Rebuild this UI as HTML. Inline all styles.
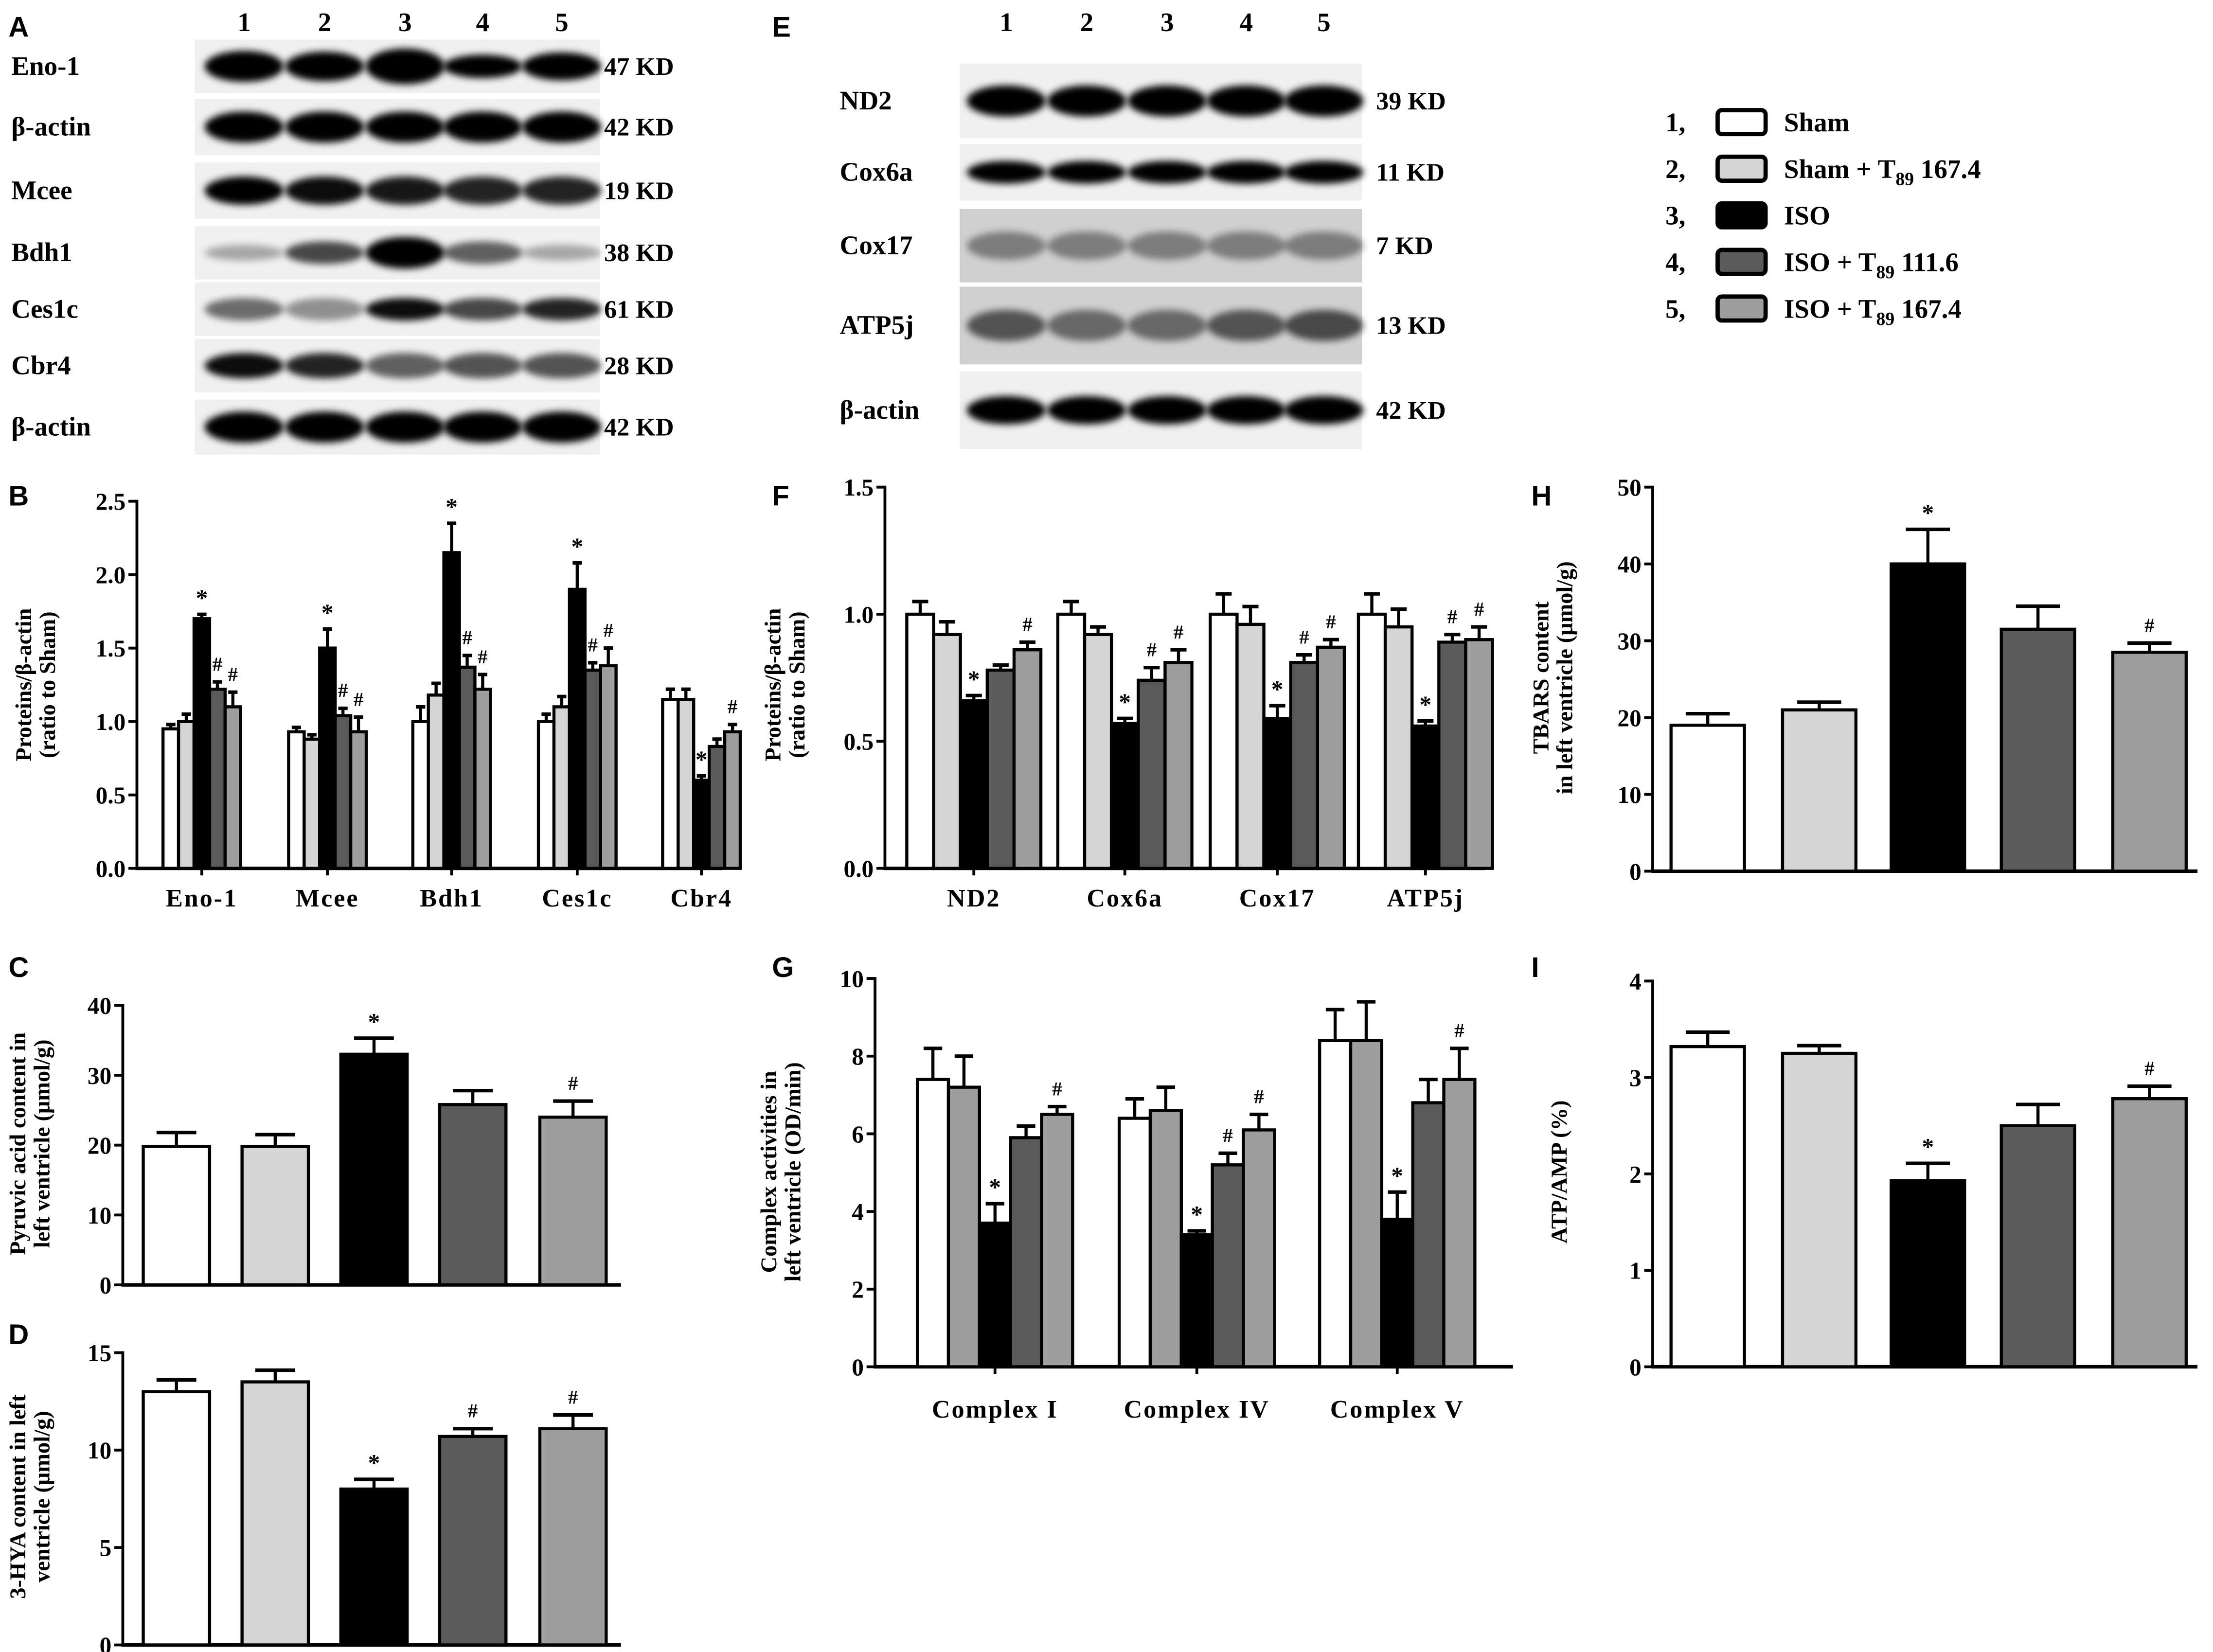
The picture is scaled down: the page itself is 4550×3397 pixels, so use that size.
<!DOCTYPE html>
<html><head><meta charset="utf-8"><style>
html,body{margin:0;padding:0;background:#fff}
svg{display:block}
text{font-family:"Liberation Serif",serif;font-weight:bold;fill:#000}
.pl{font-family:"Liberation Sans",sans-serif;font-weight:bold;font-size:20px}
</style></head><body>
<svg id="fig" width="4550" height="3397" viewBox="0 0 1568 1170" preserveAspectRatio="none" xmlns="http://www.w3.org/2000/svg">
<defs><filter id="blur" x="-20%" y="-50%" width="140%" height="200%"><feGaussianBlur stdDeviation="2.5"/></filter></defs>
<g id="root"></g>
</svg>
<script>
// ---- data ----
const fills=['#ffffff','#d4d4d4','#000000','#5a5a5a','#9e9e9e'];
const fillsG=['#ffffff','#9e9e9e','#000000','#5a5a5a','#9e9e9e'];
const bCats=['Eno-1','Mcee','Bdh1','Ces1c','Cbr4'];
const bVals=[[0.95,1.0,1.7,1.22,1.1],[0.93,0.88,1.5,1.04,0.93],[1.0,1.18,2.15,1.37,1.22],[1.0,1.1,1.9,1.35,1.38],[1.15,1.15,0.6,0.83,0.93]];
const bErrs=[[0.03,0.05,0.03,0.05,0.1],[0.03,0.03,0.13,0.05,0.1],[0.1,0.08,0.2,0.08,0.1],[0.05,0.07,0.18,0.05,0.12],[0.07,0.07,0.03,0.05,0.05]];
const bMarks=[['','','*','#','#'],['','','*','#','#'],['','','*','#','#'],['','','*','#','#'],['','','*','','#']];
const bTicks=['0.0','0.5','1.0','1.5','2.0','2.5'];
const fCats=['ND2','Cox6a','Cox17','ATP5j'];
const fVals=[[1.0,0.92,0.66,0.78,0.86],[1.0,0.92,0.57,0.74,0.81],[1.0,0.96,0.59,0.81,0.87],[1.0,0.95,0.56,0.89,0.9]];
const fErrs=[[0.05,0.05,0.02,0.02,0.03],[0.05,0.03,0.02,0.05,0.05],[0.08,0.07,0.05,0.03,0.03],[0.08,0.07,0.02,0.03,0.05]];
const fMarks=[['','','*','','#'],['','','*','#','#'],['','','*','#','#'],['','','*','#','#']];
const fTicks=['0.0','0.5','1.0','1.5'];
const gCats=['Complex I','Complex IV','Complex V'];
const gVals=[[7.4,7.2,3.7,5.9,6.5],[6.4,6.6,3.4,5.2,6.1],[8.4,8.4,3.8,6.8,7.4]];
const gErrs=[[0.8,0.8,0.5,0.3,0.2],[0.5,0.6,0.1,0.3,0.4],[0.8,1.0,0.7,0.6,0.8]];
const gMarks=[['','','*','','#'],['','','*','#','#'],['','','*','','#']];
const gTicks=['0','2','4','6','8','10'];
const hVals=[19,21,40,31.5,28.5];
const hErrs=[1.5,1,4.5,3,1.2];
const hMarks=['','','*','','#'];
const hTicks=['0','10','20','30','40','50'];
const cVals=[19.8,19.8,33,25.8,24];
const cErrs=[2,1.7,2.3,2,2.3];
const cMarks=['','','*','','#'];
const cTicks=['0','10','20','30','40'];
const dVals=[13,13.5,8,10.7,11.1];
const dErrs=[0.6,0.6,0.5,0.4,0.7];
const dMarks=['','','*','#','#'];
const dTicks=['0','5','10','15'];
const iVals=[3.32,3.25,1.93,2.5,2.78];
const iErrs=[0.15,0.08,0.18,0.22,0.13];
const iMarks=['','','*','','#'];
const iTicks=['0','1','2','3','4'];
const legendLabels=['Sham','Sham + T','ISO','ISO + T','ISO + T'];
const legendSubs=['','89 167.4','','89 111.6','89 167.4'];

const NS='http://www.w3.org/2000/svg';
const root=document.getElementById('root');
function mk(tag,attrs,parent,txt){const e=document.createElementNS(NS,tag);for(const k in attrs)e.setAttribute(k,attrs[k]);if(txt!==undefined)e.textContent=txt;(parent||root).appendChild(e);return e;}

[['A',6,26],['B',6,358],['C',6,692],['D',6,952],['E',547,26],['F',547,358],['G',547,692],['H',1085,358],['I',1085,692]].forEach(p=>{
 const t=mk('text',{x:p[1],y:p[2],class:'pl'},root,p[0]);
 
 
});

function blot(name,x0,x1,lanes,rows,labelX,kdX){
 const g=mk('g',{});
 rows.forEach(r=>{
  const rg=mk('g',{},g);
  mk('rect',{x:x0,y:r.y0,width:x1-x0,height:r.y1-r.y0,fill:r.bg||'#f0f0f0'},rg);
  const cy=(r.y0+r.y1)/2;
  lanes.forEach((lx,i)=>{
   const h=(r.h||18)*(r.s?r.s[i]:1);
   mk('ellipse',{cx:lx,cy:cy,rx:(r.w||28),ry:h/2,fill:'#000',opacity:r.o?r.o[i]:1,filter:'url(#blur)'},rg);
  });
  mk('text',{x:labelX,y:cy+6,'font-size':19},rg,r.label);
  mk('text',{x:kdX,y:cy+6,'font-size':18},rg,r.kd);
 });
 return g;
}
const aL=[173,230,287,342,398];
blot('western-blot-a',138,425,aL,[
 {label:'Eno-1',y0:28,y1:66,kd:'47 KD',h:22,s:[1,.95,1.15,.75,.9]},
 {label:'β-actin',y0:70,y1:110,kd:'42 KD',h:22},
 {label:'Mcee',y0:115,y1:155,kd:'19 KD',h:20,o:[1,.95,.9,.85,.85]},
 {label:'Bdh1',y0:160,y1:198,kd:'38 KD',h:16,o:[.3,.7,1,.6,.3],s:[.7,1,1.4,1,.7]},
 {label:'Ces1c',y0:200,y1:238,kd:'61 KD',h:16,o:[.55,.4,.95,.7,.85]},
 {label:'Cbr4',y0:240,y1:278,kd:'28 KD',h:18,o:[.95,.85,.6,.65,.65]},
 {label:'β-actin',y0:283,y1:322,kd:'42 KD',h:22}
],8,428);
const eL=[713,770,827,883,938];
blot('western-blot-e',680,965,eL,[
 {label:'ND2',y0:45,y1:98,kd:'39 KD',h:22},
 {label:'Cox6a',y0:102,y1:142,kd:'11 KD',h:16},
 {label:'Cox17',y0:148,y1:200,kd:'7 KD',h:20,o:[.4,.4,.4,.4,.4],bg:'#d0d0d0'},
 {label:'ATP5j',y0:203,y1:258,kd:'13 KD',h:22,o:[.6,.5,.5,.6,.65],bg:'#d0d0d0'},
 {label:'β-actin',y0:263,y1:318,kd:'42 KD',h:20}
],595,975);
[['lane-labels-a',aL],['lane-labels-e',eL]].forEach(([n,L])=>{
 const g=mk('g',{});
 L.forEach((x,i)=>mk('text',{x:x,y:22,'font-size':19,'text-anchor':'middle'},g,String(i+1)));
});

(function(){
 const g=mk('g',{});
 legendLabels.forEach((lab,i)=>{
  const y=86+i*33;
  const e=mk('g',{},g);
  mk('text',{x:1180,y:y+7,'font-size':19},e,(i+1)+',');
  mk('rect',{x:1217,y:y-8,width:34,height:17,rx:3,fill:fills[i],stroke:'#000','stroke-width':3},e);
  const t=mk('text',{x:1264,y:y+7,'font-size':19},e,lab);
  if(legendSubs[i]){const p=legendSubs[i].split(' ');mk('tspan',{'font-size':13,dy:5},t,p[0]);mk('tspan',{dy:-5,'font-size':19},t,' '+p[1]);}
 });
})();

function yAxis(g,x,y0,pxPer,step,ticks,xEnd){
 mk('line',{x1:x,y1:y0+1,x2:x,y2:y0-pxPer*step*(ticks.length-1)-1,stroke:'#000','stroke-width':2},g);
 mk('line',{x1:x-1,y1:y0,x2:xEnd,y2:y0,stroke:'#000','stroke-width':2.5},g);
 ticks.forEach((t,i)=>{const y=y0-pxPer*step*i;
  mk('line',{x1:x-6,y1:y,x2:x,y2:y,stroke:'#000','stroke-width':2},g);
  mk('text',{x:x-8,y:y+6,'font-size':17,'text-anchor':'end'},g,t);});
}
function yTitle(g,lines,x,cy,fs){
 lines.forEach((l,i)=>mk('text',{x:0,y:0,'font-size':fs||16,'text-anchor':'middle',transform:`translate(${x+i*17},${cy}) rotate(-90)`},g,l));
}
function bar(g,cx,w,y0,pxPer,v,e,fill,mark,name){
 const top=y0-v*pxPer, et=y0-(v+e)*pxPer;
 const b=mk('rect',{x:cx-w/2,y:top,width:w,height:y0-top,fill:fill,stroke:'#000','stroke-width':2.2},g);
 
 mk('line',{x1:cx,y1:top,x2:cx,y2:et,stroke:'#000','stroke-width':2.2},g);
 mk('line',{x1:cx-w*0.3,y1:et,x2:cx+w*0.3,y2:et,stroke:'#000','stroke-width':2.5},g);
 if(mark)mk('text',{x:cx,y:et-(mark==='*'?6:8),'font-size':mark==='*'?17:14,'text-anchor':'middle'},g,mark);
}
function grouped(name,x,y0,pxPer,step,ticks,xEnd,cats,centers,bw,vals,errs,marks,fl,title,tx,tcy,catY){
 const g=mk('g',{});
 yAxis(g,x,y0,pxPer,step,ticks,xEnd);
 cats.forEach((c,k)=>{
  const cx=centers[k];
  vals[k].forEach((v,i)=>bar(g,cx+(i-2)*bw,bw,y0,pxPer,v,errs[k][i],fl[i],marks[k][i],'bar-'+c.toLowerCase().replace(/[^a-z0-9]/g,'')+'-'+(i+1)));
  mk('line',{x1:cx,y1:y0,x2:cx,y2:y0+5,stroke:'#000','stroke-width':2},g);
  mk('text',{x:cx,y:catY,'font-size':18,'letter-spacing':1,'text-anchor':'middle'},g,c);
 });
 yTitle(g,title,tx,tcy);
}
function simple(name,x,y0,pxPer,step,ticks,xEnd,centers,bw,vals,errs,marks,title,tx,tcy,fs){
 const g=mk('g',{});
 yAxis(g,x,y0,pxPer,step,ticks,xEnd);
 vals.forEach((v,i)=>bar(g,centers[i],bw,y0,pxPer,v,errs[i],fills[i],marks[i],'bar-'+(i+1)));
 yTitle(g,title,tx,tcy,fs);
}
grouped('chart-b',97,615,104,0.5,bTicks,512,bCats,[143,232,320,409,497],11,bVals,bErrs,bMarks,fills,['Proteins/β-actin','(ratio to Sham)'],22,485,642);
grouped('chart-f',627,615,180,0.5,fTicks,1052,fCats,[690,797,905,1010],19,fVals,fErrs,fMarks,fills,['Proteins/β-actin','(ratio to Sham)'],553,485,642);
grouped('chart-g',620,968,27.5,2,gTicks,1072,gCats,[705,848,990],22,gVals,gErrs,gMarks,fillsG,['Complex  activities in','left ventricle (OD/min)'],550,830,1004);
simple('chart-h',1171,617,5.44,10,hTicks,1557,[1210,1289,1366,1444,1523],52,hVals,hErrs,hMarks,['TBARS content','in left ventricle (μmol/g)'],1097,480);
simple('chart-c',87,910,4.95,10,cTicks,440,[125,195,265,335,406],47,cVals,cErrs,cMarks,['Pyruvic acid content in','left ventricle (μmol/g)'],18,810);
simple('chart-d',87,1165,13.8,5,dTicks,440,[125,195,265,335,406],47,dVals,dErrs,dMarks,['3-HYA content in left','ventricle (μmol/g)'],18,1060);
simple('chart-i',1171,968,68.3,1,iTicks,1557,[1210,1289,1366,1444,1523],52,iVals,iErrs,iMarks,['ATP/AMP  (%)'],1110,830);
</script>
</body></html>
